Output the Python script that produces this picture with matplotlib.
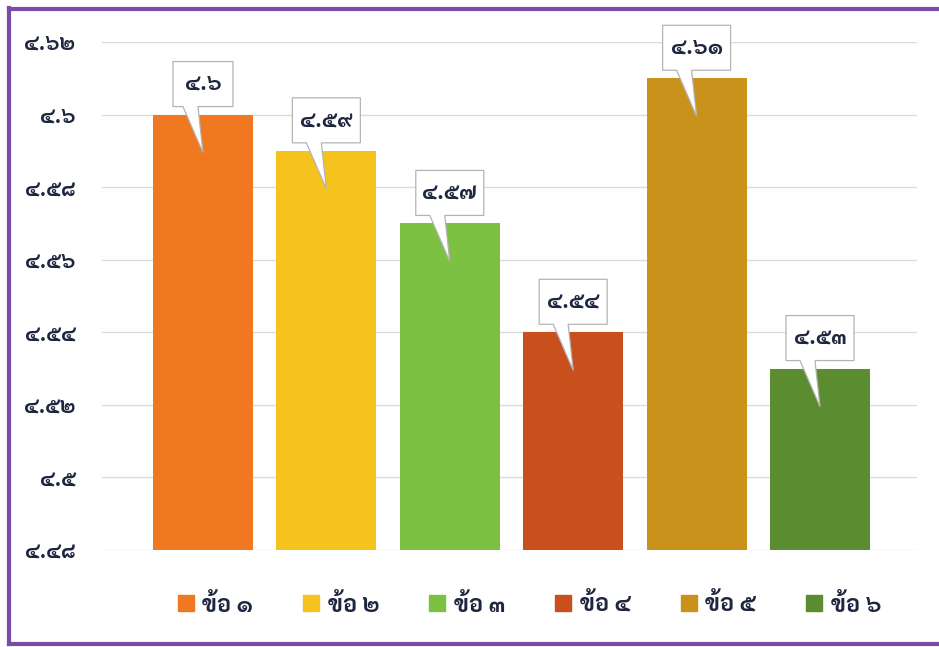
import matplotlib
matplotlib.use("Agg")
import matplotlib.pyplot as plt
import matplotlib.patches as mpatches
import matplotlib.transforms as mtrans
from matplotlib.lines import Line2D

plt.rcParams['font.family'] = ['Sarabun', 'Noto Sans Thai', 'DejaVu Sans']
plt.rcParams['font.weight'] = 'bold'

# data
categories = ["ข้อ ๑", "ข้อ ๒", "ข้อ ๓", "ข้อ ๔", "ข้อ ๕", "ข้อ ๖"]
scores = [4.60, 4.59, 4.57, 4.54, 4.61, 4.53]
score_labels = ["๔.๖", "๔.๕๙", "๔.๕๗", "๔.๕๔", "๔.๖๑", "๔.๕๓"]
bar_colors = ["#F07820", "#F6C21E", "#7DC143", "#C9501D", "#C9931B", "#5B8C2F"]
yticks = [4.48, 4.50, 4.52, 4.54, 4.56, 4.58, 4.60, 4.62]
ytick_labels = ["๔.๔๘", "๔.๕", "๔.๕๒", "๔.๕๔", "๔.๕๖", "๔.๕๘", "๔.๖", "๔.๖๒"]

W, H = 939, 647
fig = plt.figure(figsize=(W / 100, H / 100), dpi=100)
# axes from x=102..917 px, y=42..550 px
ax = fig.add_axes([102 / W, 1 - 550 / H, 815 / W, 508 / H])

xs = list(range(len(categories)))
ax.bar(xs, scores, width=0.81, color=bar_colors, bottom=0, zorder=3)
ax.set_xlim(-0.818, 5.786)
ax.set_ylim(4.48, 4.62)

ax.set_yticks(yticks)
ax.set_yticklabels(ytick_labels, fontsize=15.5, color="#1f2640")
ax.tick_params(axis="y", length=0, pad=19)
ax.set_xticks([])
ax.grid(axis="y", color="#dcdcdc", lw=1, zorder=0)
for s in ax.spines.values():
    s.set_visible(False)

# callouts (pixel offsets relative to bar top centre)
for x, v, lab in zip(xs, scores, score_labels):
    w = 60 if len(lab) == 3 else 68
    verts = [(-w / 2, 8), (-20, 8), (0, -38), (-5, 8), (w / 2, 8),
             (w / 2, 53), (-w / 2, 53)]
    verts = [(a / 100, b / 100) for a, b in verts]
    tr = fig.dpi_scale_trans + mtrans.ScaledTranslation(x, v, ax.transData)
    poly = mpatches.Polygon(verts, closed=True, transform=tr, facecolor="white",
                            edgecolor="#b4b4b4", lw=0.9, zorder=5, clip_on=False)
    ax.add_patch(poly)
    ax.text(0, 0.30, lab, transform=tr, ha="center", va="center",
            fontsize=16, color="#1f2640", zorder=6, clip_on=False)

# legend
handles = [Line2D([], [], marker="s", ls="none", markersize=12, color=c)
           for c in bar_colors]
fig.legend(handles, categories, ncol=6, loc="center",
           bbox_to_anchor=(0.562, 1 - 605 / H), frameon=False, fontsize=17,
           handletextpad=0.2, columnspacing=1.96, handlelength=1.0,
           labelcolor="#1f2640")

# purple frame
frame_c = "#7b4ca6"
fig.add_artist(Line2D([9 / W, 9 / W], [1 - 8 / H, 1 - 644 / H], color=frame_c, lw=3,
                      transform=fig.transFigure))
fig.add_artist(Line2D([9 / W, 1.0], [1 - 9 / H, 1 - 9 / H], color=frame_c, lw=3,
                      transform=fig.transFigure))
fig.add_artist(Line2D([9 / W, 1.0], [1 - 644 / H, 1 - 644 / H], color=frame_c, lw=3,
                      transform=fig.transFigure))

fig.savefig("out.png", dpi=100)
